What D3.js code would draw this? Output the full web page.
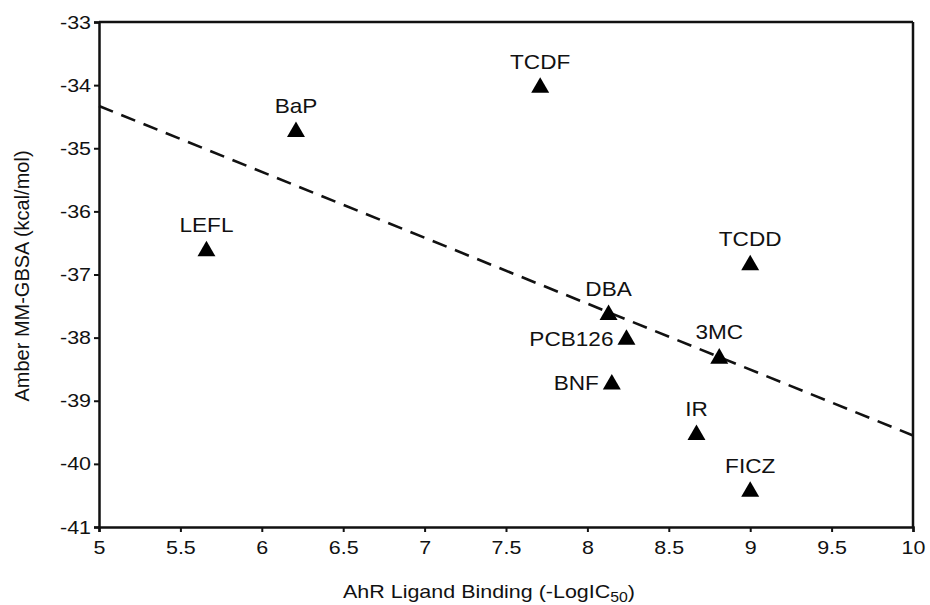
<!DOCTYPE html>
<html>
<head>
<meta charset="utf-8">
<script src="https://cdn.jsdelivr.net/npm/d3@7"></script>
<style>
  body { margin: 0; background: #fff; }
  text { font-family: "Liberation Sans", Arial, sans-serif; fill: #111; }
</style>
</head>
<body>
<svg id="chart" width="930" height="605"></svg>
<script>
// ligand data
var ligands = ["LEFL", "BaP", "TCDF", "TCDD", "DBA", "PCB126", "BNF", "3MC", "IR", "FICZ"];
var bindingValues = [5.66, 6.21, 7.71, 9.0, 8.13, 8.24, 8.15, 8.81, 8.67, 9.0];
var gbsaValues = [-36.63, -34.74, -34.04, -36.85, -37.64, -38.03, -38.74, -38.33, -39.54, -40.44];
var labelSide = ["top", "top", "top", "top", "top", "left", "left", "top", "top", "top"];

// fitted trend line, two ends
var fitX = [5, 10];
var fitY = [-34.33, -39.55];

var xTicks = [5, 5.5, 6, 6.5, 7, 7.5, 8, 8.5, 9, 9.5, 10];
var yTicks = [-33, -34, -35, -36, -37, -38, -39, -40, -41];

var svg = d3.select("svg#chart");

var margin = { top: 22, right: 17, bottom: 78, left: 99 };
var plotWidth = 930 - margin.left - margin.right;
var plotHeight = 605 - margin.top - margin.bottom;
var stretch = 1.13;   // text in the picture is a bit wide

var plot = svg.append("g")
    .attr("transform", "translate(" + margin.left + "," + margin.top + ")");

var xScale = d3.scaleLinear().domain([5, 10]).range([0, plotWidth]);
var yScale = d3.scaleLinear().domain([-41, -33]).range([plotHeight, 0]);

var xAxis = d3.axisBottom(xScale).tickValues(xTicks).tickSize(5).tickPadding(9)
    .tickFormat(function(d) { return String(d); });
var yAxis = d3.axisLeft(yScale).tickValues(yTicks).tickSize(5).tickPadding(3)
    .tickFormat(function(d) { return String(d); });

var xGroup = plot.append("g").attr("transform", "translate(0," + plotHeight + ")").call(xAxis);
var yGroup = plot.append("g").call(yAxis);

[xGroup, yGroup].forEach(function(g) {
    g.select(".domain").attr("stroke", "#111").attr("stroke-width", 2.5);
    g.selectAll(".tick line").attr("stroke", "#111").attr("stroke-width", 2);
    g.selectAll(".tick text").style("font-size", "19px")
        .style("font-family", "'Liberation Sans', Arial, sans-serif").attr("fill", "#111")
        .attr("transform", "scale(" + stretch + ",1)");
});
yGroup.selectAll(".tick text").attr("x", -8 / stretch);

// box top & right
plot.append("line").attr("x1", 0).attr("x2", plotWidth).attr("y1", 0).attr("y2", 0)
    .attr("stroke", "#111").attr("stroke-width", 2.5);
plot.append("line").attr("x1", plotWidth).attr("x2", plotWidth).attr("y1", 0).attr("y2", plotHeight)
    .attr("stroke", "#111").attr("stroke-width", 2.5);

// dashed trend
var fitPoints = fitX.map(function(x, i) { return [x, fitY[i]]; });
var lineFunction = d3.line()
    .x(function(d) { return xScale(d[0]); })
    .y(function(d) { return yScale(d[1]); });

plot.append("path")
    .attr("d", lineFunction(fitPoints))
    .attr("stroke", "#111")
    .attr("stroke-width", 2.6)
    .attr("stroke-dasharray", "15,9")
    .attr("fill", "none");

var points = ligands.map(function(name, i) {
    return { name: name, x: bindingValues[i], y: gbsaValues[i], side: labelSide[i] };
});

var triangle = d3.symbol().type(d3.symbolTriangle).size(140);

plot.selectAll("path.pt")
    .data(points)
    .enter().append("path")
    .attr("class", "pt")
    .attr("d", triangle)
    .attr("transform", function(d) { return "translate(" + xScale(d.x) + "," + yScale(d.y) + ")"; })
    .attr("fill", "#000");

plot.selectAll("text.lbl")
    .data(points)
    .enter().append("text")
    .attr("class", "lbl")
    .style("font-size", "20px")
    .attr("transform", function(d) {
        var lx = d.side == "left" ? xScale(d.x) - 13 : xScale(d.x);
        var ly = d.side == "left" ? yScale(d.y) + 6 : yScale(d.y) - 19;
        return "translate(" + lx + "," + ly + ") scale(" + stretch + ",1)";
    })
    .style("text-anchor", function(d) { return d.side == "left" ? "end" : "middle"; })
    .text(function(d) { return d.name; });

// axis titles
var xTitle = svg.append("text")
    .style("font-size", "19px")
    .attr("transform", "translate(489,598) scale(" + stretch + ",1)")
    .style("text-anchor", "middle");
xTitle.append("tspan").text("AhR Ligand Binding (-LogIC");
xTitle.append("tspan").attr("dy", 4).style("font-size", "14px").text("50");
xTitle.append("tspan").attr("dy", -4).text(")");

svg.append("text")
    .style("font-size", "20px")
    .attr("transform", "rotate(-90)")
    .attr("x", -276)
    .attr("y", 29)
    .style("text-anchor", "middle")
    .text("Amber MM-GBSA (kcal/mol)");
</script>
</body>
</html>
